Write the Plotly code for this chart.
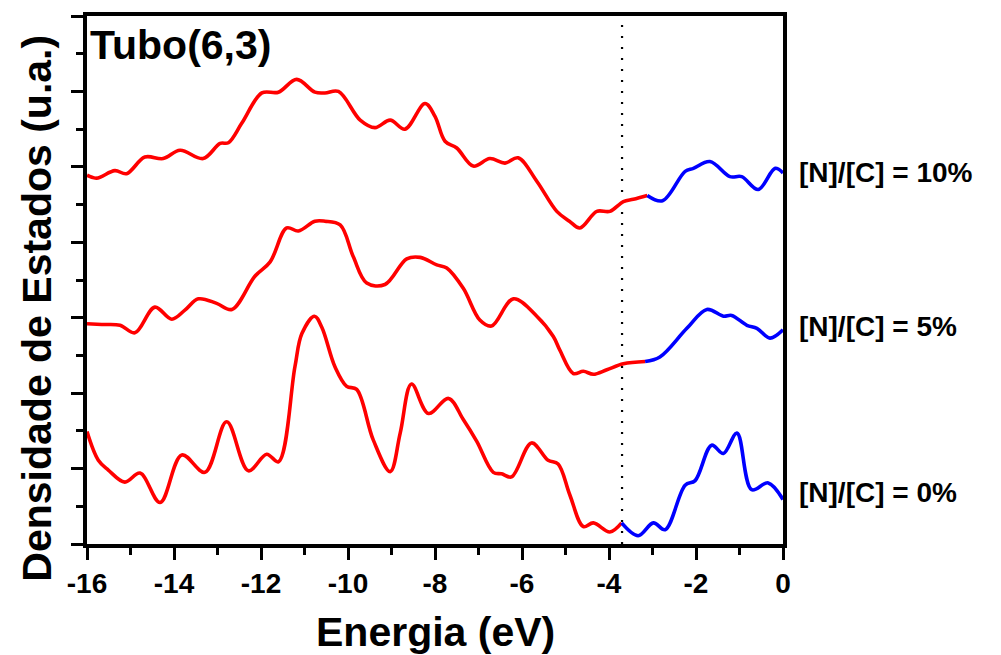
import plotly.graph_objects as go

# ---------------- data ----------------
# [N]/[C] = 10 %
e10 = [-16.0, -15.78, -15.36, -15.09, -14.67, -14.25, -13.86, -13.33, -12.94, -12.75,
       -12.44, -11.98, -11.60, -11.18, -10.76, -10.53, -10.22, -9.72, -9.38, -9.03,
       -8.69, -8.23, -8.0, -7.77, -7.50, -7.12, -6.74, -6.39, -6.09, -5.66,
       -5.20, -4.91, -4.67, -4.28, -3.98, -3.67, -3.44, -3.12,
       -2.77, -2.25, -2.06, -1.68, -1.22, -0.95, -0.57, -0.18, 0.0]
d10 = [4.89, 4.85, 4.95, 4.91, 5.13, 5.11, 5.22, 5.11, 5.31, 5.32,
       5.58, 5.98, 5.99, 6.16, 5.99, 5.98, 6.00, 5.62, 5.52, 5.62,
       5.50, 5.84, 5.67, 5.34, 5.25, 5.01, 5.11, 5.05, 5.12, 4.81,
       4.41, 4.28, 4.19, 4.41, 4.41, 4.54, 4.57, 4.62,
       4.55, 4.94, 4.98, 5.07, 4.87, 4.87, 4.70, 4.98, 4.92]
split10 = -3.12

# [N]/[C] = 5 %
e5 = [-16.0, -15.66, -15.24, -14.90, -14.44, -14.05, -13.75, -13.44, -13.02, -12.67,
      -12.14, -11.79, -11.41, -11.14, -10.76, -10.53, -10.18, -9.88, -9.57, -9.15,
      -8.65, -8.34, -7.96, -7.73, -7.35, -6.97, -6.70, -6.20, -5.66, -5.28,
      -5.13, -4.82, -4.59, -4.36, -4.05, -3.67, -3.17,
      -2.83, -2.21, -1.75, -1.37, -1.18, -0.83, -0.60, -0.30, 0.0]
d5 = [2.92, 2.91, 2.90, 2.80, 3.14, 2.98, 3.10, 3.25, 3.19, 3.11,
      3.55, 3.74, 4.19, 4.15, 4.28, 4.28, 4.23, 3.81, 3.46, 3.44,
      3.78, 3.80, 3.70, 3.66, 3.39, 2.97, 2.89, 3.25, 3.02, 2.75,
      2.57, 2.26, 2.29, 2.25, 2.31, 2.39, 2.42,
      2.48, 2.86, 3.11, 3.02, 3.03, 2.90, 2.86, 2.73, 2.84]
split5 = -3.17

# [N]/[C] = 0 %
e0 = [-16.0, -15.74, -15.51, -15.13, -14.78, -14.32, -13.82, -13.29, -12.79, -12.29,
      -11.87, -11.60, -11.22, -11.06, -10.77, -10.60, -10.30, -10.03, -9.80, -9.42,
      -9.03, -8.80, -8.54, -8.15, -7.69, -7.35, -7.04, -6.66, -6.47, -6.24,
      -5.78, -5.40, -5.17, -4.90, -4.59, -4.36, -3.98, -3.71,
      -3.33, -2.98, -2.71, -2.25, -2.02, -1.64, -1.37, -1.06, -0.72, -0.34, 0.0]
d0 = [1.49, 1.11, 0.98, 0.82, 0.94, 0.55, 1.18, 0.95, 1.62, 0.97,
      1.19, 1.09, 2.35, 2.79, 3.02, 2.87, 2.35, 2.09, 2.05, 1.38,
      0.96, 1.47, 2.12, 1.73, 1.93, 1.65, 1.36, 0.95, 0.93, 0.89,
      1.34, 1.11, 1.06, 0.65, 0.23, 0.28, 0.16, 0.28,
      0.11, 0.28, 0.19, 0.78, 0.84, 1.31, 1.20, 1.47, 0.72, 0.81, 0.59]
split0 = -3.71

curves = [(e10, d10, split10), (e5, d5, split5), (e0, d0, split0)]
labels = ["[N]/[C] = 10%", "[N]/[C] = 5%", "[N]/[C] = 0%"]
label_y = [4.93, 2.88, 0.68]
fermi = -3.70

x_ticks = [-16, -14, -12, -10, -8, -6, -4, -2, 0]
x_tick_text = ["-16", "-14", "-12", "-10", "-8", "-6", "-4", "-2", "0"]

FONT = "Liberation Sans, Arial, sans-serif"

fig = go.Figure()
for e, d, s in curves:
    ex_r = [a for a in e if a <= s]
    dy_r = [b for a, b in zip(e, d) if a <= s]
    ex_b = [a for a in e if a >= s]
    dy_b = [b for a, b in zip(e, d) if a >= s]
    fig.add_trace(go.Scatter(x=ex_r, y=dy_r, mode="lines",
                             line=dict(color="#ff0000", width=3.6, shape="spline", smoothing=1.0),
                             showlegend=False, hoverinfo="skip"))
    fig.add_trace(go.Scatter(x=ex_b, y=dy_b, mode="lines",
                             line=dict(color="#0000ff", width=3.6, shape="spline", smoothing=1.0),
                             showlegend=False, hoverinfo="skip"))

fig.add_shape(type="line", x0=fermi, x1=fermi, y0=0, y1=7, xref="x", yref="y",
              line=dict(color="black", width=2.2, dash="2px,9px"), layer="below")

for t, yv in zip(labels, label_y):
    fig.add_annotation(x=0, y=yv, xref="x", yref="y", text=f"<b>{t}</b>", showarrow=False,
                       xanchor="left", yanchor="middle", xshift=14,
                       font=dict(family=FONT, size=28, color="black"))

fig.add_annotation(x=0, y=6.62, xref="paper", yref="y", text="<b>Tubo(6,3)</b>", showarrow=False,
                   xanchor="left", yanchor="middle", xshift=1,
                   font=dict(family=FONT, size=41, color="black"))

fig.add_annotation(x=0, y=3.12, xref="paper", yref="y", text="<b>Densidade de Estados (u.a.)</b>",
                   showarrow=False, textangle=-90, xanchor="center", yanchor="middle", xshift=-50,
                   font=dict(family=FONT, size=41, color="black"))

fig.add_annotation(x=0.5, y=0, xref="paper", yref="paper", text="<b>Energia (eV)</b>",
                   showarrow=False, xanchor="center", yanchor="middle", yshift=-88,
                   font=dict(family=FONT, size=41, color="black"))

fig.update_xaxes(range=[-16, 0], tickmode="array", tickvals=x_ticks, ticktext=[f"<b>{t}</b>" for t in x_tick_text],
                 ticks="outside", ticklen=12, tickwidth=3, tickcolor="black",
                 minor=dict(dtick=1, ticks="outside", ticklen=7, tickwidth=3, tickcolor="black"),
                 showline=True, linewidth=3.5, linecolor="black", mirror=True,
                 showgrid=False, zeroline=False,
                 tickfont=dict(family=FONT, size=28, color="black"))
fig.update_yaxes(range=[0, 7], dtick=1, tick0=0, showticklabels=False,
                 ticks="outside", ticklen=12, tickwidth=3, tickcolor="black",
                 minor=dict(dtick=0.5, ticks="outside", ticklen=7, tickwidth=3, tickcolor="black"),
                 showline=True, linewidth=3.5, linecolor="black", mirror=True,
                 showgrid=False, zeroline=False)

fig.update_layout(width=1001, height=655, plot_bgcolor="white", paper_bgcolor="white",
                  margin=dict(l=87, r=218, t=16, b=111, autoexpand=False),
                  font=dict(family=FONT, color="black"))

fig.write_html("out.html", include_plotlyjs=True, full_html=True,
               config={"displayModeBar": False})
